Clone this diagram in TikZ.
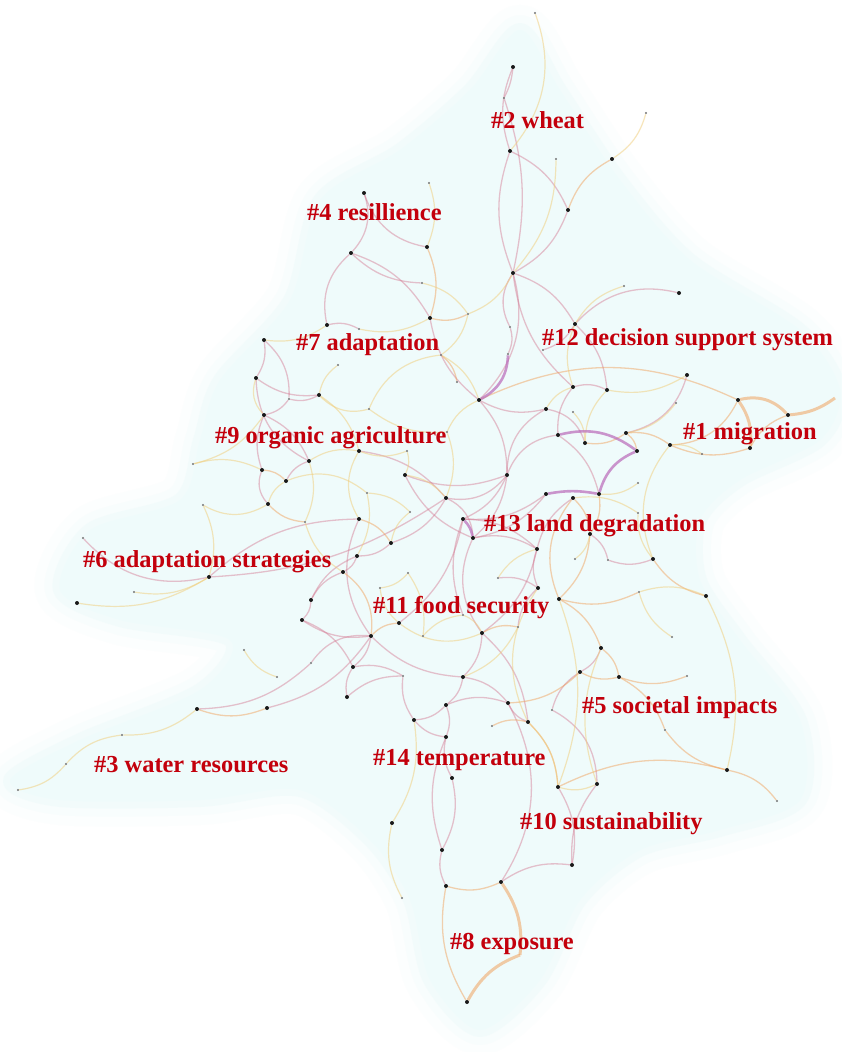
\documentclass[tikz,border=0pt]{standalone}
\usepackage{fontspec}
\setmainfont{Liberation Serif}
\usetikzlibrary{backgrounds}
\definecolor{clusterred}{RGB}{195,0,12}
\definecolor{bgcyan}{RGB}{239,251,251}
\definecolor{pinkc}{RGB}{212,120,145}
\definecolor{orangec}{RGB}{240,155,80}
\definecolor{yellowc}{RGB}{240,205,120}
\definecolor{purplec}{RGB}{185,105,185}
\tikzstyle{dot} = [circle, fill=black!90, inner sep=0pt, minimum size=4pt]
\tikzstyle{smalldot} = [circle, fill=black!55, inner sep=0pt, minimum size=2.2pt]
\tikzstyle{cluster} = [anchor=base west, inner sep=0pt, text=clusterred, font=\bfseries\fontsize{24.4}{28}\selectfont]
\tikzstyle{linkpink} = [draw=pinkc, line width=1.3pt, opacity=0.45]
\tikzstyle{linkorange} = [draw=orangec, line width=1.3pt, opacity=0.45]
\tikzstyle{linkyellow} = [draw=yellowc, line width=1.2pt, opacity=0.5]
\tikzstyle{linkheavy} = [draw=purplec, line width=2.6pt, opacity=0.7]
\tikzstyle{linkthick} = [draw=orangec, line width=3pt, opacity=0.5]

\begin{document}
\begin{tikzpicture}[x=1pt, y=-1pt]
\useasboundingbox (0,0) rectangle (841,1052);
\foreach \n/\x/\y in {p2/513/67, p4/510/151, p6/612/159, p8/568/210, p9/513/273, p11/679/293, p12/575/324,
  p15/364/193, p16/351/253, p17/427/247, p19/430/318, p21/327/325, p23/264/340, p25/319/395,
  p29/479/400, p31/546/409, p34/558/435, p36/573/387, p37/607/390, p38/687/375, p41/585/443,
  p42/626/433, p43/637/451, p44/670/445, p45/738/400, p46/788/415, p48/750/448, p49/546/494,
  p50/573/498, p51/599/494, p54/590/534, p57/653/559, p58/559/599, p60/706/596, p62/601/648,
  p63/580/672, p64/619/677, p66/256/378, p67/264/415, p69/262/470, p70/286/481, p71/268/504,
  p74/209/577, p76/77/603, p79/359/451, p80/309/461, p82/405/475, p83/507/475, p85/446/498,
  p87/359/519, p89/463/519, p90/391/543, p91/357/556, p92/473/538, p93/343/572, p97/537/549,
  p98/538/588, p99/311/600, p101/302/620, p102/399/623, p103/371/636, p105/482/633, p108/353/667,
  p109/463/677, p110/197/709, p111/267/708, p116/347/697, p117/446/705, p118/508/703, p119/414/720,
  p121/528/722, p122/446/737, p123/452/778, p124/558/787, p125/392/823, p126/442/850, p127/446/886,
  p128/501/882, p130/467/1002, p133/727/770, p134/597/784, p136/572/865}
  \node[dot] (\n) at (\x,\y) {};
\foreach \n/\x/\y in {p1/535/13, p3/504/98, p5/556/159, p7/646/113, p10/624/286, p13/510/327,
  p14/429/183, p18/422/283, p20/468/314, p22/359/329, p24/338/365, p26/289/399, p27/369/409,
  p28/441/355, p30/508/354, p32/457/382, p33/447/432, p35/543/350, p39/573/412, p40/676/403,
  p47/702/454, p52/638/483, p53/638/513, p55/575/559, p56/608/560, p59/639/592, p61/672/637,
  p65/687/676, p68/193/464, p72/203/505, p73/83/538, p75/134/592, p77/244/650, p78/277/677,
  p81/407/451, p84/367/493, p86/410/512, p88/305/522, p94/408/573, p95/498/578, p96/380/588,
  p100/463/615, p104/423/636, p106/518/627, p107/311/663, p112/122/735, p113/66/764, p114/18/790,
  p115/403/676, p120/492/726, p129/402/898, p131/552/710, p132/665/730, p135/777/801}
  \node[smalldot] (\n) at (\x,\y) {};
\coordinate (m1) at (835,398);
\coordinate (x8) at (520,955);

\begin{scope}[on background layer]
\fill[white] (0,0) rectangle (841,1052);
\foreach \w/\o in {50/0.15, 30/0.3, 14/0.6}
  \draw[bgcyan, line width=\w pt, opacity=\o, line join=round] plot[smooth cycle] coordinates {(520,30) (560,90) (620,180) (690,260) (800,330) (840,390) (820,440) (740,480) (700,520) (700,580) (740,640) (800,720) (800,800) (720,830) (640,850) (580,900) (540,980) (480,1030) (430,980) (410,900) (370,840) (300,790) (200,800) (60,800) (10,780) (80,740) (200,690) (230,640) (120,620) (60,590) (90,530) (180,500) (200,440) (220,380) (290,300) (320,200) (400,150) (470,90)};
\fill[bgcyan] plot[smooth cycle] coordinates {(520,30) (560,90) (620,180) (690,260) (800,330) (840,390) (820,440) (740,480) (700,520) (700,580) (740,640) (800,720) (800,800) (720,830) (640,850) (580,900) (540,980) (480,1030) (430,980) (410,900) (370,840) (300,790) (200,800) (60,800) (10,780) (80,740) (200,690) (230,640) (120,620) (60,590) (90,530) (180,500) (200,440) (220,380) (290,300) (320,200) (400,150) (470,90)};
\foreach \a/\b/\c in {p2/p4/-20, p2/p3/10, p3/p9/15, p4/p9/-20, p8/p9/20, p11/p12/-30, p9/p12/20,
  p9/p29/30, p9/p13/-30, p13/p30/20, p12/p35/20, p15/p16/30, p15/p17/-30, p16/p18/-20, p16/p21/-30,
  p21/p22/20, p23/p26/25, p25/p26/20, p66/p25/-20, p26/p67/20, p67/p69/-20, p69/p71/-30, p67/p80/20,
  p70/p80/20, p73/p74/-30, p74/p85/-15, p74/p87/20, p85/p83/-30, p83/p34/30, p83/p89/20, p92/p97/20,
  p92/p83/-20, p90/p91/20, p90/p85/-20, p91/p93/20, p93/p99/-20, p99/p101/20, p101/p103/-20,
  p103/p108/20, p103/p107/-30, p100/p89/20, p95/p98/20, p98/p106/-20, p105/p109/20, p109/p117/20,
  p108/p116/-20, p116/p115/20, p107/p110/20, p111/p103/-20, p36/p37/20, p38/p42/30, p36/p34/-20,
  p54/p56/20, p56/p57/-20, p62/p63/20, p63/p131/-20, p131/p134/30, p134/p136/-20, p121/p118/20,
  p118/p117/-20, p117/p122/20, p122/p123/-20, p123/p126/20, p126/p127/-20, p128/p136/20, p119/p122/-20,
  p117/p119/20, p115/p119/-20, p108/p115/20, p98/p97/20, p97/p89/-20, p49/p89/20, p85/p92/30,
  p29/p31/-20, p31/p41/30, p87/p103/-30, p82/p92/-20, p23/p66/20, p66/p80/-30, p79/p85/20,
  p82/p83/-20, p29/p83/20, p31/p83/-30, p34/p51/20, p49/p92/20, p50/p97/-20, p97/p105/20,
  p92/p105/-30, p89/p102/20, p91/p99/-20, p101/p108/20, p103/p109/-20, p109/p118/20, p105/p121/20,
  p118/p128/30, p124/p136/20, p122/p126/-20, p16/p19/20, p19/p29/-20, p4/p8/20, p9/p36/-20, p12/p37/20}
  \draw[linkpink] (\a) to[bend left=\c] (\b);
\foreach \a/\b/\c in {p6/p8/-20, p17/p19/20, p19/p20/-20, p28/p32/20, p69/p70/20, p71/p88/-20,
  p87/p90/20, p93/p103/30, p102/p103/-20, p105/p106/20, p111/p110/20, p41/p42/-20, p42/p44/20,
  p44/p45/-30, p46/p48/-20, p48/p44/20, p50/p54/20, p54/p58/20, p58/p59/-20, p58/p62/20, p63/p64/-20,
  p64/p65/-20, p64/p132/20, p132/p133/-20, p133/p135/20, p127/p128/-20, p127/p130/-20, p120/p121/20,
  p57/p60/-20, p45/p29/-25, p124/p133/20, p51/p54/20, p42/p43/20, p50/p58/-30, p63/p118/20,
  p62/p64/20, p121/p124/20}
  \draw[linkorange] (\a) to[bend left=\c] (\b);
\foreach \a/\b/\c in {p1/p4/30, p5/p9/20, p7/p6/20, p10/p12/-20, p9/p20/20, p12/p36/-20, p14/p17/20,
  p18/p20/20, p21/p23/20, p22/p19/-20, p20/p28/20, p24/p25/-20, p25/p27/-30, p27/p28/30, p66/p67/-30,
  p68/p69/20, p70/p71/-20, p71/p72/30, p80/p79/20, p79/p81/-20, p81/p82/20, p74/p75/20, p76/p74/-20,
  p85/p82/-20, p84/p86/20, p86/p90/-20, p102/p105/-30, p104/p100/20, p94/p96/20, p110/p112/20,
  p112/p113/-20, p113/p114/20, p31/p36/20, p37/p41/-20, p40/p42/20, p39/p41/20, p47/p44/-20,
  p52/p51/20, p53/p50/-20, p54/p55/20, p59/p60/20, p59/p61/-20, p57/p53/20, p134/p124/20,
  p124/p121/-20, p119/p125/20, p125/p129/-20, p95/p97/20, p33/p29/20, p78/p77/20, p25/p79/20,
  p27/p33/-20, p33/p85/20, p79/p87/-30, p84/p91/20, p80/p88/20, p88/p93/-20, p70/p84/30, p28/p29/20,
  p37/p38/-20, p57/p44/30, p60/p133/20, p62/p134/-20, p58/p124/20, p98/p121/-30, p106/p109/20,
  p100/p105/20, p96/p102/-20, p94/p104/20, p67/p68/20, p72/p74/20}
  \draw[linkyellow] (\a) to[bend left=\c] (\b);
\foreach \a/\b/\c in {p34/p43/25, p43/p51/-25, p51/p49/-10, p89/p92/15, p30/p29/30}
  \draw[linkheavy] (\a) to[bend left=\c] (\b);
\foreach \a/\b/\c in {p45/p46/30, p45/p48/20, p46/m1/-15, p128/x8/20, x8/p130/-20}
  \draw[linkthick] (\a) to[bend left=\c] (\b);
\end{scope}

\node (wheat) [cluster] at (491,128) {\#2 wheat};
\node (resil) [cluster] at (307,220) {\#4 resillience};
\node (decision) [cluster] at (542,345) {\#12 decision support system};
\node (adapt) [cluster] at (296,350) {\#7 adaptation};
\node (migration) [cluster] at (683,439) {\#1 migration};
\node (organic) [cluster] at (215,443) {\#9 organic agriculture};
\node (landdeg) [cluster] at (484,531) {\#13 land degradation};
\node (strategies) [cluster] at (83,567) {\#6 adaptation strategies};
\node (food) [cluster] at (373,613) {\#11 food security};
\node (societal) [cluster] at (582,713) {\#5 societal impacts};
\node (water) [cluster] at (94,772) {\#3 water resources};
\node (temp) [cluster] at (373,765) {\#14 temperature};
\node (sustain) [cluster] at (520,829) {\#10 sustainability};
\node (exposure) [cluster] at (450,949) {\#8 exposure};
\end{tikzpicture}
\end{document}
